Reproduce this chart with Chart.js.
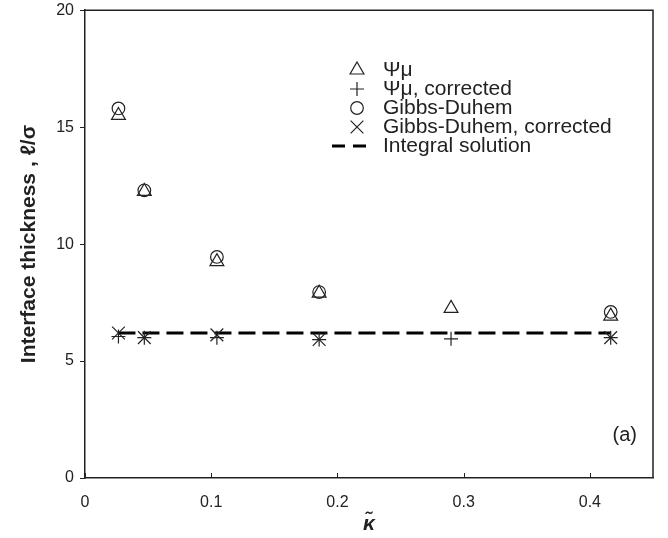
<!DOCTYPE html>
<html>
<head>
<meta charset="utf-8">
<script src="https://cdn.jsdelivr.net/npm/chart.js@4/dist/chart.umd.min.js"></script>
<style>
  body { margin: 0; background: #fff; }
  canvas { display: block; }
</style>
</head>
<body>
<canvas id="thickness" width="668" height="538"></canvas>
<script>
// Reduced gradient coefficient values
const kappa = [0.0265, 0.047, 0.1045, 0.1855, 0.29, 0.4165];

// Interface thickness l/sigma for each method
const psiMu = [15.5, 12.25, 9.25, 7.9, 7.25, 6.92];
const psiMuCorrected = [6.05, 6.0, 6.0, 5.92, 5.95, 6.0];
const gibbsDuhem = [15.8, 12.3, 9.45, 7.95, null, 7.1];
const gibbsDuhemCorrected = [6.2, 6.0, 6.12, 5.92, null, 6.0];

// Integral solution (flat line across the kappa range)
const integralKappa = [0.0265, 0.4165];
const integralValue = [6.2, 6.2];

const seriesNames = ['\u03a8\u03bc', '\u03a8\u03bc, corrected', 'Gibbs-Duhem', 'Gibbs-Duhem, corrected', 'Integral solution'];

const xTicks = [0, 0.1, 0.2, 0.3, 0.4];
const yTicks = [0, 5, 10, 15, 20];

const FONT = "'Liberation Sans', Arial, sans-serif";
const INK = '#222';

function toPoints(xs, ys) {
    const pts = [];
    xs.forEach((x, i) => {
        if (ys[i] !== null) pts.push({ x: x, y: ys[i] });
    });
    return pts;
}

function markerSet(label, data, style, radius) {
    return {
        label: label,
        data: data,
        showLine: false,
        pointStyle: style,
        pointRadius: radius,
        pointHoverRadius: radius,
        pointBorderWidth: 1.2,
        borderColor: INK,
        backgroundColor: 'rgba(0,0,0,0)',
        pointBackgroundColor: 'rgba(0,0,0,0)'
    };
}

// Box round the plot, inward x ticks, legend and panel tag
const framePlugin = {
    id: 'frame',
    afterDraw(chart) {
        const ctx = chart.ctx;
        const a = chart.chartArea;
        const xs = chart.scales.x;
        ctx.save();
        ctx.strokeStyle = INK;
        ctx.lineWidth = 1.5;
        ctx.beginPath();
        ctx.moveTo(a.left, a.top);
        ctx.lineTo(a.right, a.top);
        ctx.lineTo(a.right, a.bottom);
        ctx.stroke();

        ctx.lineWidth = 1;
        xs.ticks.forEach(t => {
            const px = Math.round(xs.getPixelForValue(t.value)) + 0.5;
            ctx.beginPath();
            ctx.moveTo(px, a.bottom);
            ctx.lineTo(px, a.bottom - 5);
            ctx.stroke();
        });

        // legend
        const symX = 357, textX = 383, rowY = 70, rowStep = 19;
        ctx.textBaseline = 'middle';
        ctx.textAlign = 'left';
        chart.data.datasets.forEach((ds, i) => {
            const y = rowY + i * rowStep;
            if (ds.showLine === false) {
                ctx.lineWidth = 1.2;
                ctx.strokeStyle = INK;
                ctx.fillStyle = 'rgba(0,0,0,0)';
                Chart.helpers.drawPoint(ctx, {
                    pointStyle: ds.pointStyle,
                    radius: ds.pointRadius,
                    rotation: 0,
                    borderWidth: 1.2
                }, symX, y);
            } else {
                ctx.lineWidth = 3;
                ctx.strokeStyle = '#000';
                ctx.setLineDash([13, 8]);
                ctx.beginPath();
                ctx.moveTo(332, y);
                ctx.lineTo(367, y);
                ctx.stroke();
                ctx.setLineDash([]);
            }
            ctx.font = '21px ' + FONT;
            ctx.fillStyle = INK;
            ctx.fillText(ds.label, textX, y);
        });

        ctx.font = '20px ' + FONT;
        ctx.fillStyle = INK;
        ctx.textAlign = 'right';
        ctx.fillText('(a)', a.right - 16, a.bottom - 43);
        ctx.restore();
    }
};

new Chart(document.getElementById('thickness'), {
    type: 'scatter',
    data: {
        datasets: [
            markerSet(seriesNames[0], toPoints(kappa, psiMu), 'triangle', 8),
            markerSet(seriesNames[1], toPoints(kappa, psiMuCorrected), 'cross', 7),
            markerSet(seriesNames[2], toPoints(kappa, gibbsDuhem), 'circle', 6.3),
            markerSet(seriesNames[3], toPoints(kappa, gibbsDuhemCorrected), 'crossRot', 9),
            {
                label: seriesNames[4],
                type: 'line',
                data: toPoints(integralKappa, integralValue),
                showLine: true,
                borderColor: '#000',
                borderWidth: 3,
                borderDash: [17, 7],
                pointRadius: 0,
                fill: false
            }
        ]
    },
    options: {
        responsive: false,
        devicePixelRatio: 1,
        animation: false,
        layout: { padding: { top: 7, right: 15, left: 0, bottom: 0 } },
        plugins: {
            legend: { display: false },
            tooltip: { enabled: false }
        },
        scales: {
            x: {
                type: 'linear',
                min: 0,
                max: 0.45,
                afterBuildTicks(scale) {
                    scale.ticks = xTicks.map(v => ({ value: v }));
                },
                afterFit(scale) {
                    scale.height = 60;
                    scale.paddingLeft = 0;
                    scale.paddingRight = 0;
                },
                grid: { display: false, drawTicks: false },
                border: { display: true, color: INK, width: 1.5 },
                ticks: {
                    padding: 15,
                    color: INK,
                    font: { family: FONT, size: 16 },
                    callback: v => String(v)
                },
                title: {
                    display: true,
                    text: '\u03ba\u0303',
                    color: INK,
                    font: { family: FONT, size: 21, weight: 'bold', style: 'italic' },
                    padding: { top: 0, bottom: 1 }
                }
            },
            y: {
                type: 'linear',
                min: 0,
                max: 20,
                afterBuildTicks(scale) {
                    scale.ticks = yTicks.map(v => ({ value: v }));
                },
                afterFit(scale) {
                    scale.width = 85;
                    scale.paddingTop = 0;
                    scale.paddingBottom = 0;
                },
                grid: {
                    display: true,
                    drawOnChartArea: false,
                    drawTicks: true,
                    tickLength: 5,
                    color: INK,
                    lineWidth: 1
                },
                border: { display: true, color: INK, width: 1.5 },
                ticks: {
                    padding: 6,
                    color: INK,
                    font: { family: FONT, size: 16 }
                },
                title: {
                    display: true,
                    text: 'Interface thickness , \u2113/\u03c3',
                    color: INK,
                    font: { family: FONT, size: 21, weight: 'bold' },
                    padding: { top: 17, bottom: 0 }
                }
            }
        }
    },
    plugins: [framePlugin]
});
</script>
</body>
</html>
